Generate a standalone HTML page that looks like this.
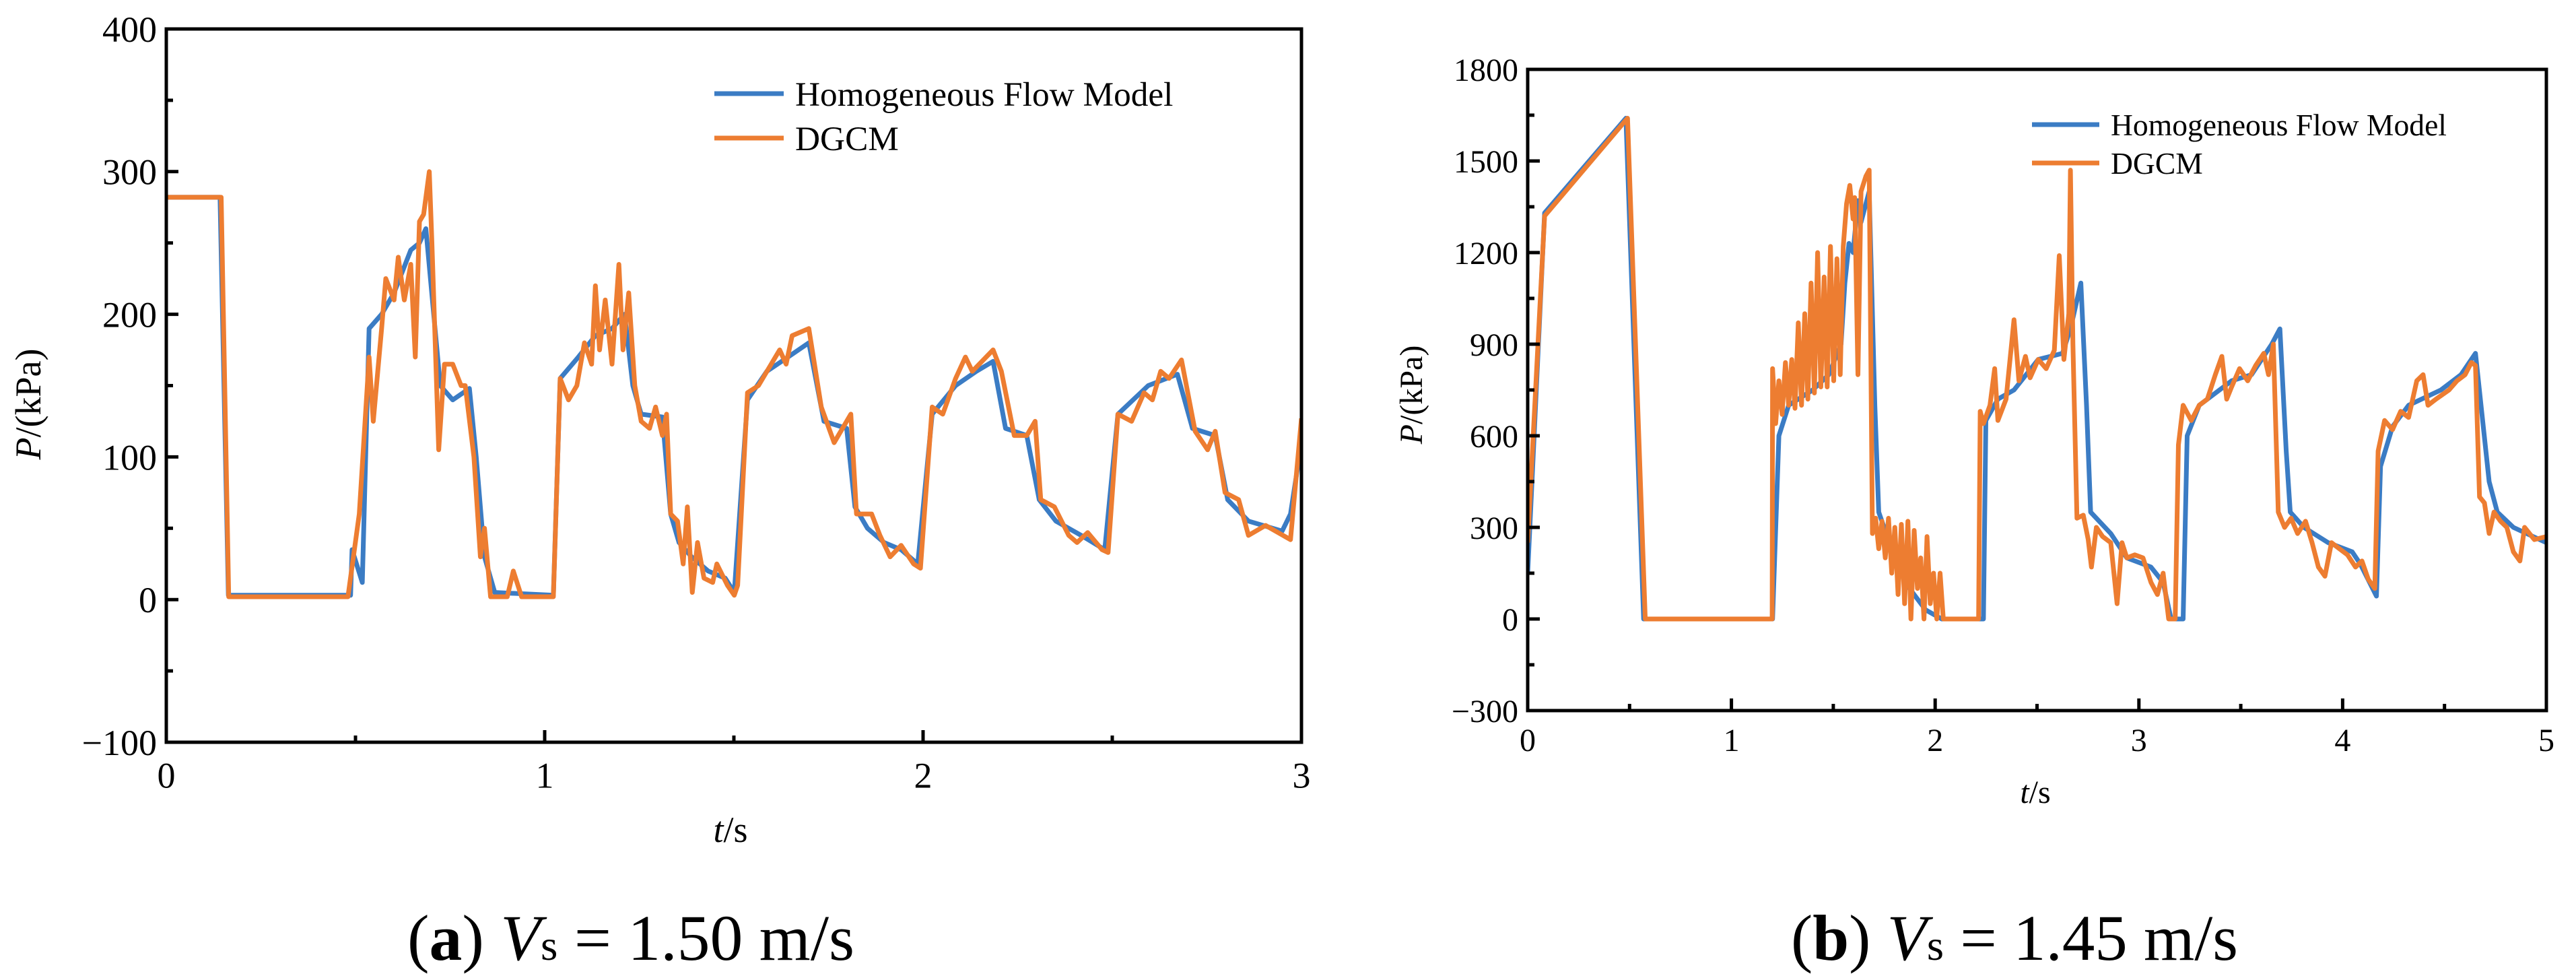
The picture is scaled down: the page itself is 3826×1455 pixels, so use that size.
<!DOCTYPE html>
<html><head><meta charset="utf-8">
<style>
html,body{margin:0;padding:0;background:#fff;}
svg{display:block;font-family:"Liberation Serif","DejaVu Serif",serif;}
</style></head>
<body>
<svg id="fig" width="3826" height="1455" viewBox="0 0 3826 1455" xmlns="http://www.w3.org/2000/svg">
<g id="pa"></g>
<g id="pb"></g>
<text x="937" y="1425" font-size="96" text-anchor="middle" textLength="664" lengthAdjust="spacingAndGlyphs">(<tspan font-weight="bold">a</tspan>) <tspan font-style="italic">V</tspan><tspan font-size="64">s</tspan> = 1.50 m/s</text>
<text x="2992" y="1425" font-size="96" text-anchor="middle" textLength="664" lengthAdjust="spacingAndGlyphs">(<tspan font-weight="bold">b</tspan>) <tspan font-style="italic">V</tspan><tspan font-size="64">s</tspan> = 1.45 m/s</text>
</svg>
<script>
// ---- Panel (a) data ----
const aXTicks = [0,1,2,3];
const aYTicks = [-100,0,100,200,300,400];
const aHomT = [0,0.142,0.164,0.487,0.491,0.518,0.536,0.569,0.602,0.624,0.646,0.669,0.686,0.724,0.757,0.801,0.819,0.841,0.868,1.023,1.041,1.089,1.134,1.178,1.211,1.233,1.255,1.311,1.333,1.355,1.388,1.432,1.477,1.501,1.536,1.587,1.643,1.698,1.738,1.798,1.820,1.853,1.897,1.942,1.986,2.024,2.086,2.141,2.185,2.218,2.274,2.307,2.351,2.418,2.480,2.515,2.595,2.672,2.712,2.772,2.805,2.860,2.949,2.971,3.0];
const aHomV = [282,282,3,3,35,12,190,200,215,230,245,250,260,150,140,148,100,30,5,3,155,170,185,190,200,150,130,128,60,40,30,20,15,5,140,160,170,180,125,120,65,50,40,35,25,130,150,160,167,120,115,70,55,45,35,130,150,158,120,115,70,55,48,60,110];
const aDgT = [0,0.145,0.165,0.48,0.51,0.536,0.547,0.569,0.580,0.602,0.613,0.629,0.646,0.658,0.669,0.680,0.695,0.702,0.720,0.735,0.757,0.779,0.790,0.813,0.830,0.841,0.857,0.901,0.917,0.939,1.023,1.041,1.063,1.085,1.105,1.124,1.134,1.145,1.160,1.178,1.196,1.207,1.222,1.238,1.255,1.277,1.293,1.311,1.322,1.333,1.351,1.366,1.377,1.390,1.404,1.421,1.444,1.455,1.483,1.501,1.510,1.536,1.565,1.621,1.638,1.654,1.698,1.731,1.765,1.809,1.824,1.864,1.886,1.913,1.942,1.975,1.993,2.024,2.052,2.086,2.112,2.130,2.185,2.207,2.241,2.274,2.296,2.311,2.347,2.385,2.407,2.435,2.473,2.489,2.515,2.551,2.584,2.606,2.628,2.650,2.683,2.719,2.752,2.772,2.798,2.834,2.860,2.905,2.971,3.0];
const aDgV = [282,282,2,2,60,170,125,190,225,210,240,210,235,170,265,270,300,250,105,165,165,150,150,100,30,50,2,2,20,2,2,155,140,150,180,165,220,175,210,165,235,175,215,150,125,120,135,115,130,60,55,25,65,5,40,15,12,25,10,3,10,145,150,175,165,185,190,135,110,130,60,60,45,30,38,25,22,135,130,155,170,160,175,160,115,115,125,70,65,45,40,47,35,33,130,125,145,140,160,155,168,118,105,118,75,70,45,52,42,127];

// ---- Panel (b) data ----
const bXTicks = [0,1,2,3,4,5];
const bYTicks = [-300,0,300,600,900,1200,1500,1800];
const bHomT = [0,0.083,0.482,0.569,1.202,1.233,1.281,1.399,1.478,1.538,1.557,1.577,1.597,1.621,1.636,1.676,1.704,1.723,1.775,1.874,1.953,2.032,2.237,2.249,2.308,2.387,2.506,2.625,2.664,2.715,2.743,2.763,2.862,2.941,3.059,3.119,3.158,3.217,3.237,3.296,3.455,3.553,3.652,3.692,3.723,3.743,3.810,3.929,4.047,4.087,4.166,4.186,4.245,4.324,4.482,4.581,4.652,4.719,4.759,4.838,5.0];
const bHomV = [150,1330,1640,0,0,600,700,750,800,900,1100,1230,1200,1370,1300,1400,700,350,250,100,30,0,0,650,720,750,850,870,950,1100,700,350,280,200,170,120,0,0,600,700,780,800,900,950,550,350,300,250,220,180,75,500,630,700,750,800,870,450,350,300,250];
const bDgT = [0,0.083,0.490,0.577,1.200,1.202,1.217,1.233,1.249,1.265,1.281,1.296,1.312,1.328,1.344,1.360,1.375,1.391,1.407,1.423,1.439,1.455,1.470,1.486,1.502,1.518,1.534,1.549,1.565,1.581,1.597,1.605,1.621,1.636,1.660,1.676,1.692,1.708,1.723,1.739,1.755,1.771,1.787,1.802,1.818,1.834,1.850,1.866,1.881,1.897,1.913,1.929,1.945,1.960,1.976,1.992,2.008,2.024,2.040,2.213,2.221,2.237,2.269,2.292,2.308,2.348,2.387,2.411,2.443,2.466,2.506,2.545,2.585,2.609,2.632,2.656,2.664,2.676,2.696,2.727,2.751,2.767,2.791,2.822,2.862,2.893,2.917,2.941,2.980,3.020,3.059,3.091,3.119,3.146,3.178,3.194,3.217,3.257,3.296,3.336,3.375,3.407,3.431,3.455,3.494,3.534,3.573,3.613,3.636,3.660,3.684,3.715,3.747,3.779,3.818,3.850,3.881,3.913,3.945,3.984,4.024,4.063,4.095,4.126,4.158,4.174,4.206,4.245,4.285,4.324,4.364,4.395,4.419,4.458,4.522,4.561,4.601,4.632,4.652,4.672,4.696,4.719,4.743,4.775,4.806,4.838,4.870,4.893,4.941,5.0];
const bDgV = [250,1320,1640,0,0,820,640,780,670,840,700,850,690,970,700,1000,720,1100,740,1200,760,1120,760,1220,780,1180,800,1220,1360,1420,1310,1380,800,1400,1450,1470,280,330,230,320,200,330,150,300,80,310,50,320,0,290,100,200,0,270,50,150,0,150,0,0,680,640,700,820,650,720,980,780,860,790,850,820,880,1190,850,1000,1470,900,330,340,260,170,300,270,250,50,250,200,210,200,120,80,150,0,0,570,700,650,700,720,800,860,720,760,820,780,830,870,800,900,350,300,330,280,320,250,170,140,250,230,210,170,190,130,100,550,650,620,680,660,780,800,700,720,750,780,800,840,830,400,380,280,350,320,300,220,190,300,260,270];

const NS = "http://www.w3.org/2000/svg";
function mk(parent, tag, attrs, txt){
  const e = document.createElementNS(NS, tag);
  for (const k in attrs) e.setAttribute(k, attrs[k]);
  if (txt !== undefined) e.textContent = txt;
  parent.appendChild(e);
  return e;
}

function drawPanel(g, cfg){
  const {L,R,T,B,xMin,xMax,yMin,yMax,xTicks,yTicks,fs} = cfg;
  const sx = v => L + (v - xMin) / (xMax - xMin) * (R - L);
  const sy = v => B - (v - yMin) / (yMax - yMin) * (B - T);
  const series = [
    {t: cfg.homT, v: cfg.homV, c: "#3b7cc4", w: 7, name: "homogeneous-flow-line"},
    {t: cfg.dgT, v: cfg.dgV, c: "#ed7d31", w: 7, name: "dgcm-line"}
  ];
  const clip = mk(g, "clipPath", {id: cfg.id + "clip"});
  mk(clip, "rect", {x: L, y: T, width: R - L, height: B - T});
  series.forEach(s => {
    let d = "";
    s.t.forEach((t, i) => { d += (i ? "L" : "M") + sx(t).toFixed(1) + "," + sy(s.v[i]).toFixed(1); });
    const p = mk(g, "path", {d: d, fill: "none", stroke: s.c, "stroke-width": s.w, "stroke-linejoin": "round", "clip-path": "url(#" + cfg.id + "clip)"});
    
    
  });
  const fr = mk(g, "rect", {x: L, y: T, width: R - L, height: B - T, fill: "none", stroke: "#000", "stroke-width": 5});
  
  
  xTicks.forEach((t, i) => {
    const x = sx(t);
    mk(g, "line", {x1: x, y1: B, x2: x, y2: B - 18, stroke: "#000", "stroke-width": 5});
    if (i < xTicks.length - 1) {
      const xm = sx(t + (xTicks[1] - xTicks[0]) / 2);
      mk(g, "line", {x1: xm, y1: B, x2: xm, y2: B - 10, stroke: "#000", "stroke-width": 5});
    }
    const lb = mk(g, "text", {x: x, y: B + fs * 1.25, "font-size": fs, "text-anchor": "middle"}, String(t));
    
    
  });
  yTicks.forEach((v, i) => {
    const y = sy(v);
    mk(g, "line", {x1: L, y1: y, x2: L + 18, y2: y, stroke: "#000", "stroke-width": 5});
    if (i < yTicks.length - 1) {
      const ym = sy(v + (yTicks[1] - yTicks[0]) / 2);
      mk(g, "line", {x1: L, y1: ym, x2: L + 10, y2: ym, stroke: "#000", "stroke-width": 5});
    }
    const lb = mk(g, "text", {x: L - 14, y: y + fs * 0.35, "font-size": fs, "text-anchor": "end"}, (v < 0 ? "\u2212" + (-v) : String(v)));
    
    
  });
  const xt = mk(g, "text", {x: cfg.xtX, y: cfg.xtY, "font-size": fs, "text-anchor": "middle"});
  xt.innerHTML = '<tspan font-style="italic">t</tspan>/s';
  
  
  const yt = mk(g, "text", {x: 0, y: 0, "font-size": fs, "text-anchor": "middle", transform: "translate(" + cfg.ytX + "," + cfg.ytY + ") rotate(-90)"});
  yt.innerHTML = '<tspan font-style="italic">P</tspan>/(kPa)';
  
  
  const lg = mk(g, "g", {});
  
  
  const items = [["Homogeneous Flow Model", "#3b7cc4"], ["DGCM", "#ed7d31"]];
  items.forEach((it, i) => {
    const y = cfg.lgY + i * cfg.lgDy;
    mk(lg, "line", {x1: cfg.lgX1, y1: y, x2: cfg.lgX2, y2: y, stroke: it[1], "stroke-width": 7});
    const tx = mk(lg, "text", {x: cfg.lgTx, y: y + fs * 0.33, "font-size": fs * 0.95}, it[0]);
    
    
  });
}

drawPanel(document.getElementById("pa"), {
  id: "a", L: 247, R: 1933, T: 43, B: 1102, xMin: 0, xMax: 3, yMin: -100, yMax: 400,
  xTicks: aXTicks, yTicks: aYTicks, fs: 54,
  homT: aHomT, homV: aHomV, dgT: aDgT, dgV: aDgV,
  xtX: 1085, xtY: 1250, ytX: 60, ytY: 600,
  lgX1: 1061, lgX2: 1164, lgY: 139, lgDy: 66, lgTx: 1181
});
drawPanel(document.getElementById("pb"), {
  id: "b", L: 2269, R: 3782, T: 103, B: 1055, xMin: 0, xMax: 5, yMin: -300, yMax: 1800,
  xTicks: bXTicks, yTicks: bYTicks, fs: 48,
  homT: bHomT, homV: bHomV, dgT: bDgT, dgV: bDgV,
  xtX: 3023, xtY: 1192, ytX: 2112, ytY: 586,
  lgX1: 3018, lgX2: 3118, lgY: 185, lgDy: 57, lgTx: 3135
});
</script>
</body></html>
